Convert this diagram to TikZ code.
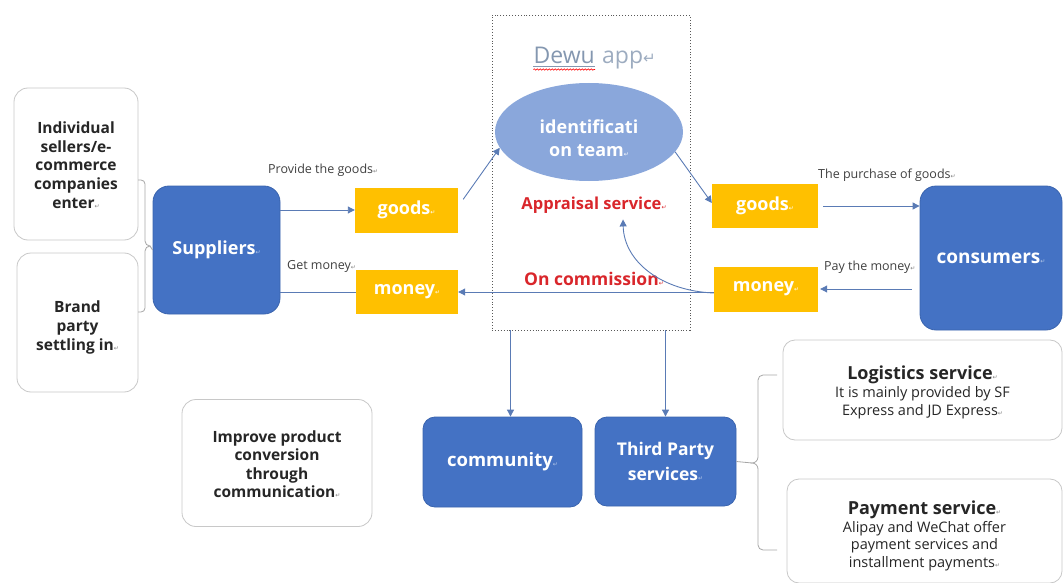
\documentclass[tikz,border=0pt]{standalone}
\usepackage{fontspec}
\setmainfont{Open Sans}
\newfontfamily\djv{DejaVu Sans}
\usetikzlibrary{arrows.meta,shapes.geometric,decorations.pathmorphing,calc}
\definecolor{dblue}{HTML}{4472C4}
\definecolor{dbluedark}{HTML}{3A64AE}
\definecolor{ylw}{HTML}{FFC000}
\definecolor{ellc}{HTML}{8AA7DB}
\definecolor{redt}{HTML}{D9262B}
\definecolor{arrc}{HTML}{5A7BB5}
\definecolor{gbord}{HTML}{C8C8C8}
\definecolor{txt}{HTML}{262626}
\definecolor{lbl}{HTML}{404040}
\definecolor{dewuc}{HTML}{8497B0}
\newcommand{\pmk}[1][gray]{{\djv\mdseries\fontsize{6}{6}\selectfont\textcolor{#1}{↵}}}
\begin{document}
\begin{tikzpicture}[x=1pt,y=-1pt,
 bluebox/.style={draw=dbluedark, line width=0.8pt, fill=dblue, rounded corners=12pt, text=white, font=\bfseries\fontsize{18}{21}\selectfont, align=center, inner sep=0pt},
 ybox/.style={fill=ylw, text=white, font=\bfseries\fontsize{18}{21}\selectfont, inner sep=0pt},
 wbox/.style={draw=gbord, line width=0.8pt, fill=white, rounded corners=14pt, align=center, text=txt, inner sep=0pt},
 plain/.style={inner sep=0pt, align=center},
 lab/.style={font=\fontsize{12.5}{14}\selectfont, text=lbl, inner sep=0pt},
 arr/.style={draw=arrc, line width=0.9pt, -{Triangle[width=7pt,length=7pt]}},
 ln/.style={draw=arrc, line width=0.9pt},
 brk/.style={draw=gray!70, line width=0.8pt},
 redlab/.style={text=redt, font=\bfseries\fontsize{16.5}{19}\selectfont, inner sep=0pt},
 wavy/.style={draw=red, line width=0.6pt, decorate, decoration={snake, amplitude=0.7pt, segment length=3pt}}
]
\useasboundingbox (0,0) rectangle (1063,583);

% left white boxes
\node[wbox, minimum width=124pt, minimum height=152pt] (indiv) at (76,164) {};
\node[plain, text=txt, font=\bfseries\fontsize{15.5}{18.7}\selectfont] (indivt) at (76,165) {Individual\\sellers/e-\\commerce\\companies\\enter\pmk};
\node[wbox, minimum width=121pt, minimum height=139pt] (brand) at (77.5,322.5) {};
\node[plain, text=txt, font=\bfseries\fontsize{15.5}{19}\selectfont] (brandt) at (77.5,327) {Brand\\party\\settling in\pmk};

% suppliers
\node[bluebox, minimum width=127pt, minimum height=128pt, rounded corners=16pt] (sup) at (216.5,250) {Suppliers\pmk[dblue!40!white]};

% yellow boxes left
\node[ybox, minimum width=103pt, minimum height=45pt] (goodsL) at (406.5,210) {goods\pmk[white]};
\node[ybox, minimum width=102pt, minimum height=44pt] (moneyL) at (407,292) {money\pmk[white]};

% dotted app frame
\node[draw=gray!70!black, dotted, line width=0.9pt, minimum width=198pt, minimum height=315pt, inner sep=0pt] (dbox) at (591,172.5) {};
\node[anchor=base east, inner sep=0pt, text=dewuc, font=\fontsize{23}{26}\selectfont] (dewuw) at (595,64) {Dewu};
\node[anchor=base west, inner sep=0pt, text=dewuc!80!white, font=\fontsize{23}{26}\selectfont] (appw) at (602,64) {app{\djv\fontsize{15}{15}\selectfont ↵}};
\draw[draw=dewuc, line width=0.6pt] ($(dewuw.base west)+(0,2.5)$) -- ($(dewuw.base east)+(0,2.5)$);
\draw[wavy] ($(dewuw.base west)+(0,5.5)$) -- ($(dewuw.base east)+(0,5.5)$);

\node[ellipse, fill=ellc, minimum width=188pt, minimum height=98pt, inner sep=0pt] (ell) at (589,132) {};
\node[plain, text=white, font=\bfseries\fontsize{18}{23}\selectfont] (ellt) at (589,138) {identificati\\on team\pmk[white]};
\node[redlab] (appr) at (594,205) {Appraisal service\pmk[redt]};
\node[redlab, font=\bfseries\fontsize{17.5}{20}\selectfont] (oncomm) at (594,279) {On commission\pmk[redt]};

% right yellow boxes
\node[ybox, minimum width=106pt, minimum height=44pt] (goodsR) at (765,206) {goods\pmk[white]};
\node[ybox, minimum width=104pt, minimum height=45pt] (moneyR) at (766,289) {money\pmk[white]};

% consumers
\node[bluebox, minimum width=142pt, minimum height=144pt, rounded corners=16pt, font=\bfseries\fontsize{19}{22}\selectfont] (cons) at (991,258) {consumers\pmk[dblue!40!white]};

% right white boxes
\node[wbox, minimum width=279pt, minimum height=100pt, rounded corners=12pt] (logi) at (922.5,390) {};
\node[plain, text=txt, font=\fontsize{14.5}{18}\selectfont] (logit) at (922.5,392) {{\bfseries\fontsize{18}{19}\selectfont Logistics service\pmk}\\ It is mainly provided by SF\\ Express and JD Express\pmk};
\node[wbox, minimum width=275pt, minimum height=104pt, rounded corners=12pt] (pay) at (924.5,531) {};
\node[plain, text=txt, font=\fontsize{14.5}{17.5}\selectfont] (payt) at (924.5,536) {{\bfseries\fontsize{18}{20}\selectfont Payment service\pmk}\\ Alipay and WeChat offer\\ payment services and\\ installment payments\pmk};

% bottom boxes
\node[wbox, minimum width=190pt, minimum height=127pt] (impr) at (277,463) {};
\node[plain, text=txt, font=\bfseries\fontsize{15.5}{18.5}\selectfont] (imprt) at (277,464) {Improve product\\conversion\\through\\communication\pmk};
\node[bluebox, minimum width=159pt, minimum height=90pt, font=\bfseries\fontsize{18.5}{21}\selectfont] (commu) at (502.5,462) {community\pmk[dblue!40!white]};
\node[bluebox, minimum width=141pt, minimum height=89pt, font=\bfseries\fontsize{17.5}{25}\selectfont] (third) at (665.5,461.5) {Third Party\\services\pmk[dblue!40!white]};

% labels
\node[lab, anchor=west] (lprov) at (268,170) {Provide the goods\pmk};
\node[lab, anchor=west] (lget) at (287,266) {Get money\pmk};
\node[lab, anchor=west] (lpur) at (818,175) {The purchase of goods\pmk};
\node[lab, anchor=west] (lpay) at (824,267) {Pay the money\pmk};

% connectors
\draw[arr] (sup.east |- goodsL.west) -- (goodsL.west);
\draw[arr] ($(goodsL.north east)+(5,12)$) -- (ell.190);
\draw[arr] (ell.-13) -- ($(goodsR.west)+(0,-3)$);
\draw[arr] ($(goodsR.east)+(5,0)$) -- (goodsR.east -| cons.west);
\draw[arr] ($(cons.west |- moneyR.east)+(-8,0)$) -- ($(moneyR.east)+(2,0)$);
\draw[arr] (moneyR.west |- moneyL.east) -- (moneyL.east);
\draw[ln] (moneyL.west) -- (moneyL.west -| sup.east);
\draw[arr] ($(moneyR.west)+(0,4)$) .. controls (662,291) and (624,262) .. ($(appr.south)+(29,6)$);
\draw[arr] ($(dbox.south -| commu.north)+(8,0)$) -- ($(commu.north)+(8,0)$);
\draw[arr] (dbox.south -| third.north) -- (third.north);

% brackets
\draw[brk] (138,180) -- (141,180) to[out=0,in=90] (145,184) -- (145,241) to[out=-90,in=180] (150,246) to[out=180,in=90] (145,251) -- (145,308) to[out=-90,in=0] (141,312) -- (138,312);
\draw[brk] (150,246) -- (sup.west);
\draw[brk] (777,375) -- (763,375) to[out=180,in=90] (758,380) -- (758,457) to[out=-90,in=0] (752,463) to[out=0,in=90] (758,469) -- (758,545) to[out=-90,in=180] (763,550) -- (777,550);
\draw[brk] (752,463) -- (third.east);
\end{tikzpicture}
\end{document}
